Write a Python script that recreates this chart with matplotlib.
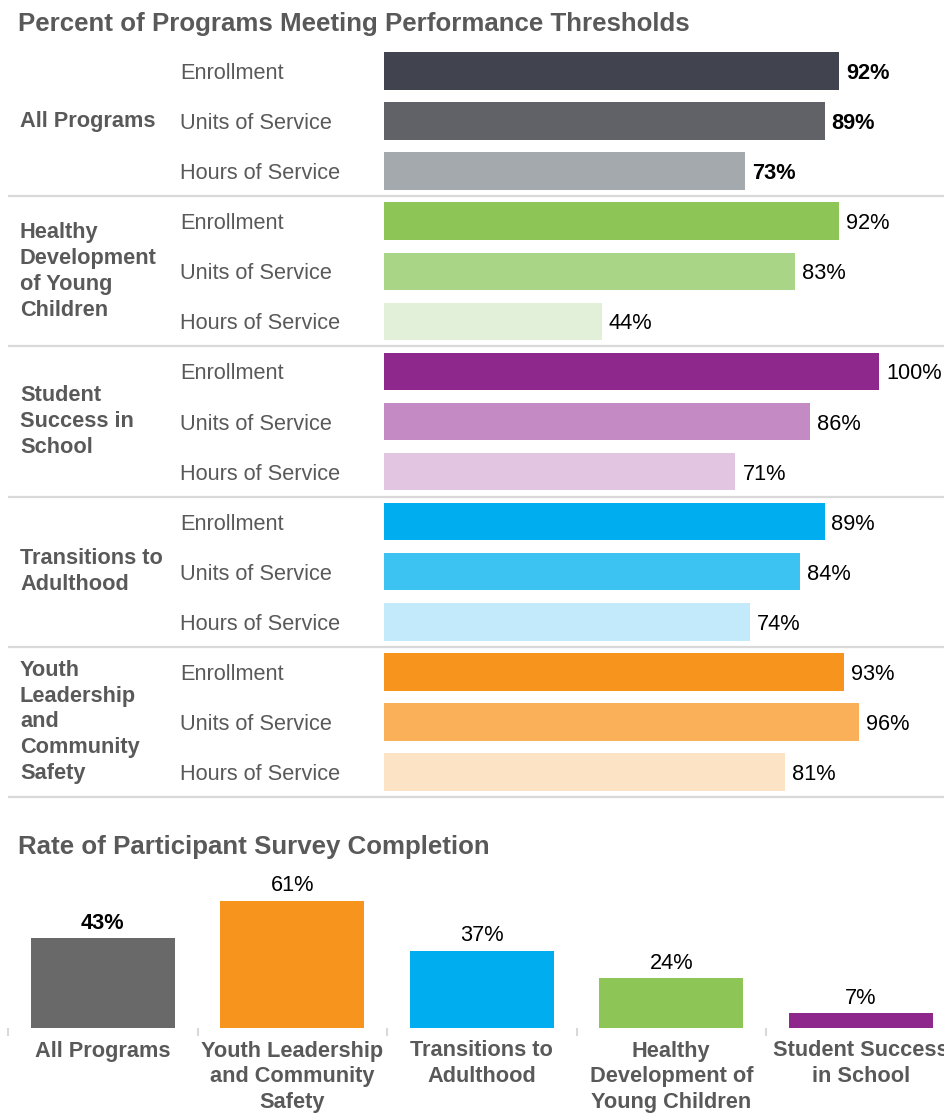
import matplotlib
matplotlib.use("Agg")
import matplotlib.pyplot as plt
import matplotlib.transforms as mtransforms

plt.rcParams['font.family'] = ['Liberation Sans', 'DejaVu Sans']

# performance thresholds, one group of three measures per program area
groups = ["All Programs", "Healthy\nDevelopment\nof Young\nChildren",
          "Student\nSuccess in\nSchool", "Transitions to\nAdulthood",
          "Youth\nLeadership\nand\nCommunity\nSafety"]
measures = ["Enrollment", "Units of Service", "Hours of Service"]
all_programs = [92, 89, 73]
healthy_dev = [92, 83, 44]
student_success = [100, 86, 71]
transitions = [89, 84, 74]
youth_leadership = [93, 96, 81]
group_values = [all_programs, healthy_dev, student_success, transitions, youth_leadership]
group_colors = [
    ["#41444f", "#606268", "#a3a9ac"],
    ["#8dc656", "#a9d686", "#e2efd9"],
    ["#8e288d", "#c48ac4", "#e2c6e1"],
    ["#00aeef", "#3dc3f2", "#c2eafb"],
    ["#f7941d", "#f9b058", "#fde3c6"],
]

# survey completion
survey_labels = ["All Programs", "Youth Leadership\nand Community\nSafety",
                 "Transitions to\nAdulthood", "Healthy\nDevelopment of\nYoung Children",
                 "Student Success\nin School"]
survey_rates = [43, 61, 37, 24, 7]
survey_colors = ["#696969", "#f7941d", "#00aeef", "#8dc656", "#8e288d"]

W, H = 945, 1115
fig = plt.figure(figsize=(W / 100, H / 100), dpi=100)
grey_text = "#595959"
rule = "#d9d9d9"
fs = 15.7


def px_rect(left, top, right, bottom):
    return [left / W, 1 - bottom / H, (right - left) / W, (bottom - top) / H]


# ---- top chart ----
fig.text(18 / W, 1 - 24 / H, "Percent of Programs Meeting Performance Thresholds",
         fontsize=18.6, fontweight="bold", color=grey_text, va="center")

ax = fig.add_axes(px_rect(384, 46, 945, 797))
ax.set_xlim(0, 561 / 4.95)
ax.set_ylim(15, 0)
ax.axis("off")
lab_tr = mtransforms.blended_transform_factory(fig.transFigure, ax.transData)

for g, (name, vals, cols) in enumerate(zip(groups, group_values, group_colors)):
    bold_vals = g == 0
    for k, (m, v, c) in enumerate(zip(measures, vals, cols)):
        y = g * 3 + k + 0.5
        ax.barh(y, v, height=0.75, color=c)
        ax.text(v + 1.4, y, f"{v}%", va="center_baseline", ha="left", fontsize=fs,
                color="black", fontweight="bold" if bold_vals else "normal",
                clip_on=False)
        ax.text(180 / W, y, m, transform=lab_tr, va="center_baseline", ha="left",
                fontsize=fs, color=grey_text)
    ax.text(20 / W, g * 3 + 1.5, name, transform=lab_tr, va="center", ha="left",
            fontsize=fs, fontweight="bold", color=grey_text, linespacing=1.3)
    ax.plot([8 / W, 1.0], [g * 3 + 3, g * 3 + 3], transform=lab_tr, color=rule,
            lw=1.6, clip_on=False, solid_capstyle="butt")

# ---- bottom chart ----
fig.text(18 / W, 1 - 847 / H, "Rate of Participant Survey Completion",
         fontsize=18.6, fontweight="bold", color=grey_text, va="center")

ax2 = fig.add_axes(px_rect(8, 868, 8 + 5 * 189.5, 1028))
ax2.set_xlim(-0.5, 4.5)
ax2.set_ylim(0, 160 / 2.09)
xs = list(range(len(survey_rates)))
ax2.bar(xs, survey_rates, width=0.76, color=survey_colors)
for i, v in enumerate(survey_rates):
    ax2.text(i, v + 2, f"{v}%", ha="center", va="bottom", fontsize=fs,
             color="black", fontweight="bold" if i == 0 else "normal")

for s in ax2.spines.values():
    s.set_visible(False)
ax2.set_yticks([])
ax2.set_xticks(xs)
ax2.set_xticklabels(survey_labels, fontsize=fs, fontweight="bold", color=grey_text,
                    linespacing=1.3)
ax2.tick_params(axis="x", which="major", length=0, pad=9)
ax2.set_xticks([x - 0.5 for x in xs], minor=True)
ax2.tick_params(axis="x", which="minor", length=6, width=1.5, color=rule, direction="out")

fig.savefig("out.png", dpi=100)
